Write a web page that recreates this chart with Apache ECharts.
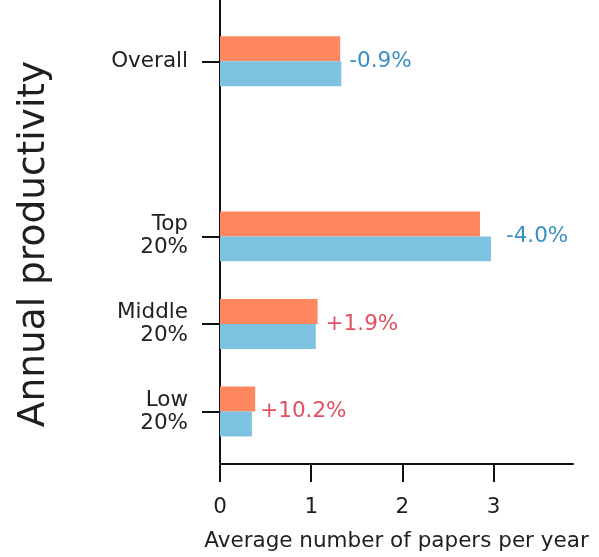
<!DOCTYPE html>
<html>
<head>
<meta charset="utf-8">
<script src="https://cdn.jsdelivr.net/npm/echarts@6/dist/echarts.min.js"></script>
<style>
  html, body { margin: 0; padding: 0; background: #fff; }
  #chart { width: 599px; height: 557px; }
</style>
</head>
<body>
<div id="chart"></div>
<script>
// Group labels, top to bottom
const groups = ['Overall', 'Top\n20%', 'Middle\n20%', 'Low\n20%'];
// Average papers per year, later period (orange) and earlier period (blue)
const laterValues = [1.318, 2.851, 1.07, 0.386];
const earlierValues = [1.33, 2.97, 1.05, 0.35];
// Relative change between the two periods
const changeLabels = ['-0.9%', '-4.0%', '+1.9%', '+10.2%'];
// X axis tick values
const xTicks = [0, 1, 2, 3];

// Layout: row position of each group on the vertical scale (gap above "Top 20%")
const rowPos = [4, 2, 1, 0];
const BAR_THICK = 0.285;            // bar thickness in row units
const labelGap = [8, 15, 8, 5];     // px between bar end and change label
const FONT = "'DejaVu Sans', sans-serif";
const ORANGE = '#FF875F';
const BLUE = '#7DC3E1';
const UP_COLOR = '#E0505F';
const DOWN_COLOR = '#3A8FC2';
const TEXT = '#1f1f1f';

const chart = echarts.init(document.getElementById('chart'), null, { renderer: 'canvas' });

function barRenderer(side) {
  return function (params, api) {
    const start = api.coord([0, api.value(1)]);
    const end = api.coord([api.value(0), api.value(1)]);
    const h = api.size([0, BAR_THICK])[1];
    const y = side === 'upper' ? end[1] - h : end[1];
    return {
      type: 'rect',
      shape: { x: start[0], y: y, width: end[0] - start[0], height: h },
      style: { fill: side === 'upper' ? ORANGE : BLUE }
    };
  };
}

const laterData = laterValues.map((v, i) => [v, rowPos[i]]);
const earlierData = earlierValues.map((v, i) => [v, rowPos[i]]);
const changeData = laterValues.map((v, i) => [Math.max(v, earlierValues[i]), rowPos[i], i]);

const option = {
  animation: false,
  grid: { left: 220, right: 26, top: 0, bottom: 93, containLabel: false },
  xAxis: {
    type: 'value',
    min: 0,
    max: 3.87,
    interval: 1,
    name: 'Average number of papers per year',
    nameLocation: 'middle',
    nameGap: 66,
    nameTextStyle: { fontFamily: FONT, fontSize: 21.5, color: TEXT },
    axisLine: { show: true, onZero: false, lineStyle: { color: '#111', width: 2 } },
    axisTick: { show: true, length: 18, lineStyle: { color: '#111', width: 2 }, customValues: xTicks },
    axisLabel: { fontFamily: FONT, fontSize: 21.5, color: TEXT, margin: 32, customValues: xTicks },
    splitLine: { show: false }
  },
  yAxis: {
    type: 'value',
    min: -0.6,
    max: 4.7,
    name: 'Annual productivity',
    nameLocation: 'middle',
    nameGap: 167,
    nameTextStyle: { fontFamily: FONT, fontSize: 37.5, color: TEXT, padding: [0, 24, 0, 0] },
    axisLine: { show: true, onZero: false, lineStyle: { color: '#111', width: 2 } },
    axisTick: { show: true, length: 18, lineStyle: { color: '#111', width: 2 }, customValues: rowPos },
    axisLabel: {
      fontFamily: FONT, fontSize: 21.5, color: TEXT, margin: 32, lineHeight: 23, align: 'right',
      customValues: rowPos,
      formatter: function (val) {
        const idx = rowPos.indexOf(val);
        return idx >= 0 ? groups[idx] : '';
      }
    },
    splitLine: { show: false }
  },
  series: [
    {
      name: 'Later',
      type: 'custom',
      renderItem: barRenderer('upper'),
      encode: { x: 0, y: 1 },
      data: laterData
    },
    {
      name: 'Earlier',
      type: 'custom',
      renderItem: barRenderer('lower'),
      encode: { x: 0, y: 1 },
      data: earlierData
    },
    {
      name: 'Change',
      type: 'custom',
      encode: { x: 0, y: 1 },
      data: changeData,
      renderItem: function (params, api) {
        const i = api.value(2);
        const p = api.coord([api.value(0), api.value(1)]);
        const txt = changeLabels[i];
        return {
          type: 'text',
          x: p[0] + labelGap[i],
          y: p[1],
          style: {
            text: txt,
            fill: txt.charAt(0) === '-' ? DOWN_COLOR : UP_COLOR,
            font: '21.5px ' + FONT,
            align: 'left',
            verticalAlign: 'middle'
          }
        };
      }
    }
  ]
};

chart.setOption(option);
</script>
</body>
</html>
